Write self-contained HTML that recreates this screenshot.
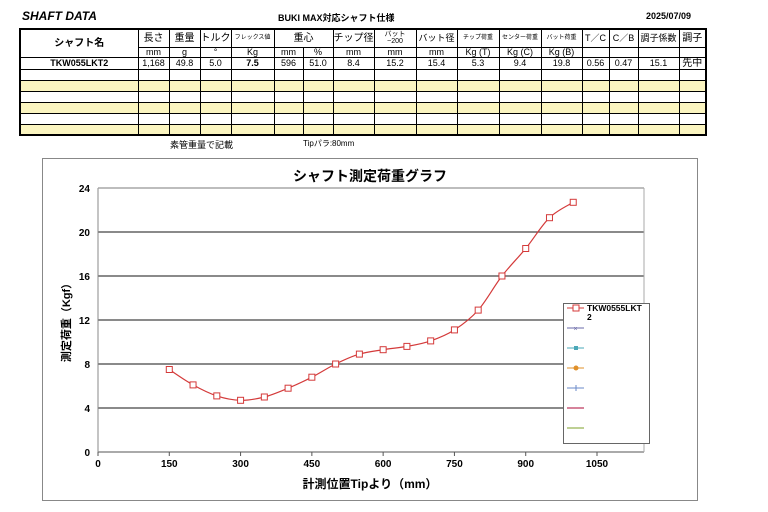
<!DOCTYPE html>
<html><head><meta charset="utf-8">
<style>
body{margin:0;width:768px;height:512px;background:#fff;font-family:"Liberation Sans","Noto Sans CJK JP",sans-serif;position:relative;overflow:hidden}
.abs{position:absolute}
table{position:absolute;left:19px;top:28px;border-collapse:collapse;table-layout:fixed;width:686px}
td{border:1px solid #000;padding:0;text-align:center;font-size:9px;line-height:9px;overflow:hidden;white-space:nowrap}
tr.y td{background:#fbf5c0}
.thick{border-right:2px solid #000}
</style></head><body>
<div class="abs" style="left:22px;top:9px;font-size:12px;font-style:italic;font-weight:bold">SHAFT DATA</div>
<div class="abs" style="left:278px;top:11px;font-size:9px;font-weight:bold">BUKI MAX対応シャフト仕様</div>
<div class="abs" style="left:646px;top:11px;font-size:9px;font-weight:bold">2025/07/09</div>
<table style="border:2px solid #000">
<colgroup><col style="width:118px"><col style="width:31px"><col style="width:31px"><col style="width:31px"><col style="width:43px"><col style="width:29px"><col style="width:30px"><col style="width:41px"><col style="width:42px"><col style="width:41px"><col style="width:42px"><col style="width:42px"><col style="width:41px"><col style="width:27px"><col style="width:29px"><col style="width:41px"><col style="width:27px"></colgroup>
<tr style="height:18px"><td rowspan="2" style="font-weight:bold;font-size:10px">シャフト名</td><td style="font-size:10px">長さ</td><td style="font-size:10px">重量</td><td style="font-size:10px">トルク</td><td style="font-size:6px">フレックス値</td><td colspan="2" style="font-size:10px">重心</td><td style="font-size:10px">チップ径</td><td style="font-size:7px;line-height:7px">バット<br>~200</td><td style="font-size:9px">バット径</td><td style="font-size:6px">チップ荷重</td><td style="font-size:6px">センター荷重</td><td style="font-size:6px">バット荷重</td><td>T／C</td><td>C／B</td><td>調子係数</td><td style="font-size:10px">調子</td></tr>
<tr style="height:10px"><td>mm</td><td>g</td><td>°</td><td>Kg</td><td>mm</td><td>%</td><td>mm</td><td>mm</td><td>mm</td><td>Kg (T)</td><td>Kg (C)</td><td>Kg (B)</td><td></td><td></td><td></td><td></td></tr>
<tr style="height:12px"><td style="font-weight:bold">TKW055LKT2</td><td>1,168</td><td>49.8</td><td>5.0</td><td style="font-weight:bold">7.5</td><td>596</td><td>51.0</td><td>8.4</td><td>15.2</td><td>15.4</td><td>5.3</td><td>9.4</td><td>19.8</td><td>0.56</td><td>0.47</td><td>15.1</td><td style="font-size:10px">先中</td></tr>
<tr style="height:11px"><td></td><td></td><td></td><td></td><td></td><td></td><td></td><td></td><td></td><td></td><td></td><td></td><td></td><td></td><td></td><td></td><td></td></tr>
<tr class="y" style="height:11px"><td></td><td></td><td></td><td></td><td></td><td></td><td></td><td></td><td></td><td></td><td></td><td></td><td></td><td></td><td></td><td></td><td></td></tr>
<tr style="height:11px"><td></td><td></td><td></td><td></td><td></td><td></td><td></td><td></td><td></td><td></td><td></td><td></td><td></td><td></td><td></td><td></td><td></td></tr>
<tr class="y" style="height:11px"><td></td><td></td><td></td><td></td><td></td><td></td><td></td><td></td><td></td><td></td><td></td><td></td><td></td><td></td><td></td><td></td><td></td></tr>
<tr style="height:11px"><td></td><td></td><td></td><td></td><td></td><td></td><td></td><td></td><td></td><td></td><td></td><td></td><td></td><td></td><td></td><td></td><td></td></tr>
<tr class="y" style="height:11px"><td></td><td></td><td></td><td></td><td></td><td></td><td></td><td></td><td></td><td></td><td></td><td></td><td></td><td></td><td></td><td></td><td></td></tr>
</table>
<div class="abs" style="left:170px;top:138px;font-size:9px">素管重量で記載</div>
<div class="abs" style="left:303px;top:138px;font-size:8px">Tipパラ:80mm</div>

<svg class="abs" style="left:0;top:0" width="768" height="512">
<rect x="42.5" y="158.5" width="655" height="342" fill="#fff" stroke="#888"/>
<text x="370" y="181" text-anchor="middle" font-size="14" font-weight="bold">シャフト測定荷重グラフ</text>
<g id="grid"></g>
<g id="marks"></g>
<text transform="translate(70,320) rotate(-90)" text-anchor="middle" font-size="11" font-weight="bold">測定荷重（Kgf）</text>
<text x="370" y="488" text-anchor="middle" font-size="12" font-weight="bold">計測位置Tipより（mm）</text>
<g>
<rect x="563.5" y="303.5" width="86" height="140" fill="#fff" stroke="#666"/>
<line x1="567" x2="584" y1="308" y2="308" stroke="#d43a3a"/><rect x="573" y="305" width="6" height="6" fill="#fff" stroke="#d43a3a"/>
<text x="587" y="311" font-size="8.5" font-weight="bold">TKW0555LKT</text>
<text x="587" y="320" font-size="8.5" font-weight="bold">2</text>
<line x1="567" x2="584" y1="328" y2="328" stroke="#6a6aa8"/><text x="575.5" y="331" font-size="7" fill="#6a6aa8" text-anchor="middle">×</text>
<line x1="567" x2="584" y1="348" y2="348" stroke="#4aa8b8"/><rect x="574" y="346" width="4" height="4" fill="#4aa8b8"/>
<line x1="567" x2="584" y1="368" y2="368" stroke="#e0902a"/><circle cx="576" cy="368" r="2.5" fill="#e0902a"/>
<line x1="567" x2="584" y1="388" y2="388" stroke="#6a8ac8"/><line x1="576" x2="576" y1="385" y2="391" stroke="#6a8ac8"/>
<line x1="567" x2="584" y1="408" y2="408" stroke="#c85a7a" stroke-width="1.5"/>
<line x1="567" x2="584" y1="428" y2="428" stroke="#a8c070" stroke-width="1.5"/>
</g>
</svg>
<script>
const positions=[150,200,250,300,350,400,450,500,550,600,650,700,750,800,850,900,950,1000];
const loads=[7.5,6.1,5.1,4.7,5.0,5.8,6.8,8.0,8.9,9.3,9.6,10.1,11.1,12.9,16.0,18.5,21.3,22.7];
const yTicks=[0,4,8,12,16,20,24];
const xTicks=[0,150,300,450,600,750,900,1050];
const NS="http://www.w3.org/2000/svg";
const X0=98,X1=644,Y0=452,Y24=188;
function sx(v){return X0+v*(597-98)/1050;}
function sy(v){return Y0-v*(Y0-Y24)/24;}
function mk(t,a,p){const e=document.createElementNS(NS,t);for(const k in a)e.setAttribute(k,a[k]);p.appendChild(e);return e;}
const g=document.getElementById('grid'),m=document.getElementById('marks');
yTicks.forEach(t=>{
 const ln=mk('line',{x1:X0,x2:X1,y1:sy(t),y2:sy(t),stroke:t===0?'#555':'#444','stroke-width':t===0?1:1.3},g);
 
 
 const tx=mk('text',{x:X0-8,y:sy(t)+4,'text-anchor':'end','font-size':'10','font-weight':'bold'},g);
 tx.textContent=t;
 
 
});
const la=mk('line',{x1:X0,x2:X0,y1:Y24,y2:Y0,stroke:'#888'},g);


const ra=mk('line',{x1:X1,x2:X1,y1:Y24,y2:Y0,stroke:'#aaa'},g);


const ta=mk('line',{x1:X0,x2:X1,y1:Y24,y2:Y24,stroke:'#aaa'},g);


xTicks.forEach(t=>{
 const tk=mk('line',{x1:sx(t),x2:sx(t),y1:Y0,y2:Y0+4,stroke:'#555'},g);
 
 
 const tx=mk('text',{x:sx(t),y:Y0+15,'text-anchor':'middle','font-size':'10','font-weight':'bold'},g);
 tx.textContent=t;
 
 
});
// smooth curve (Catmull-Rom)
const pts=positions.map((p,i)=>[sx(p),sy(loads[i])]);
let d='M'+pts[0][0]+','+pts[0][1];
for(let i=0;i<pts.length-1;i++){
 const p0=pts[i-1]||pts[i],p1=pts[i],p2=pts[i+1],p3=pts[i+2]||p2;
 d+=` C${p1[0]+(p2[0]-p0[0])/6},${p1[1]+(p2[1]-p0[1])/6} ${p2[0]-(p3[0]-p1[0])/6},${p2[1]-(p3[1]-p1[1])/6} ${p2[0]},${p2[1]}`;
}
const line=mk('path',{d:d,fill:'none',stroke:'#d43a3a','stroke-width':1.2},m);


pts.forEach(p=>{
 const r=mk('rect',{x:p[0]-3,y:p[1]-3,width:6,height:6,fill:'#fff',stroke:'#d43a3a'},m);
 
 
});
</script>
</body></html>
